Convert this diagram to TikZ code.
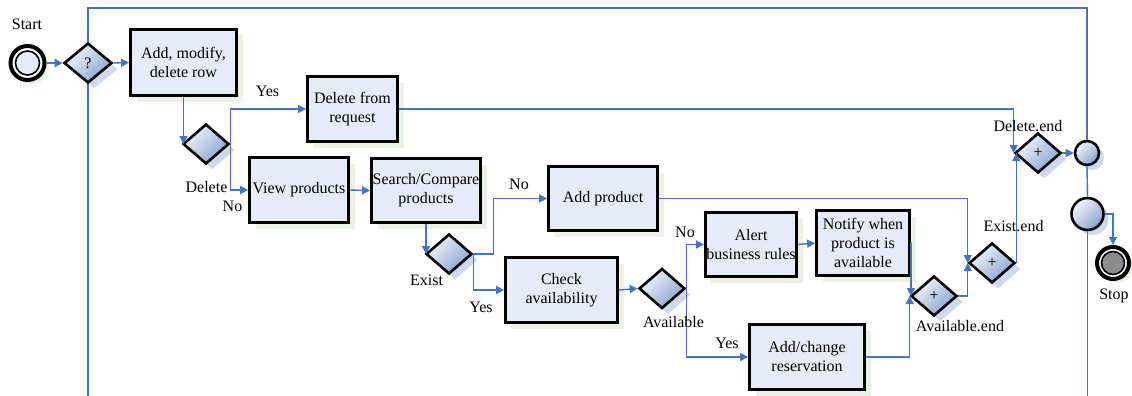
\documentclass[tikz,border=0pt]{standalone}
\usepackage{fontspec}
\setmainfont{Liberation Serif}
\usetikzlibrary{shapes.geometric,arrows.meta,shadows}
\definecolor{linkblue}{RGB}{68,114,196}
\definecolor{boxfill}{RGB}{230,236,247}
\definecolor{boxshadow}{RGB}{236,241,230}
\definecolor{dlight}{RGB}{242,246,252}
\definecolor{ddark}{RGB}{135,162,206}
\definecolor{dshadow}{RGB}{205,218,238}
\definecolor{stopgray}{RGB}{140,140,140}
\begin{document}
\begin{tikzpicture}[x=1pt,y=-1pt,
  every node/.style={font=\fontsize{16}{19}\selectfont},
  task/.style={rectangle, draw=black, line width=2.8pt, fill=boxfill, align=center, inner sep=1pt,
     drop shadow={shadow xshift=6pt, shadow yshift=-6pt, fill=boxshadow, opacity=1}},
  gate/.style={diamond, draw=black, line width=2.6pt, inner sep=0pt, minimum width=46pt, minimum height=40pt,
     top color=dlight, bottom color=ddark, shading angle=45,
     drop shadow={shadow xshift=6pt, shadow yshift=-6pt, fill=dshadow, opacity=1}},
  evt/.style={circle, draw=black, line width=2.6pt, inner sep=0pt,
     top color=dlight, bottom color=ddark, shading angle=45,
     drop shadow={shadow xshift=5pt, shadow yshift=-5pt, fill=dshadow, opacity=1}},
  conn/.style={draw=linkblue, line width=1.4pt},
  arr/.style={conn, -{Triangle[length=8pt,width=8pt]}},
  lbl/.style={inner sep=0pt}
]
\useasboundingbox (0,0) rectangle (1132,396);

% start event
\node[circle, draw=black, line width=4pt, fill=white, minimum size=34pt, inner sep=0pt,
      drop shadow={shadow xshift=4pt, shadow yshift=-4pt, fill=boxshadow, opacity=1}] (start) at (27.5,63) {};
\node[circle, draw=black, line width=1.6pt, fill=boxfill, minimum size=24pt, inner sep=0pt] (startin) at (27.5,63) {};
\node[lbl] (startlbl) at (27,24) {Start};

% stop event
\node[circle, draw=black, line width=4pt, fill=white, minimum size=32pt, inner sep=0pt,
      drop shadow={shadow xshift=4pt, shadow yshift=-4pt, fill=boxshadow, opacity=1}] (stop) at (1113,263) {};
\node[circle, draw=black, line width=1.6pt, fill=stopgray, minimum size=23pt, inner sep=0pt] (stopin) at (1113,263) {};
\node[lbl] (stoplbl) at (1114,296) {Stop};

% gateways
\node[gate, minimum width=48pt] (q) at (88,63) {?};
\node[gate] (del) at (206,144) {};
\node[gate] (exist) at (449,254) {};
\node[gate] (avail) at (662,288.5) {};
\node[gate] (availend) at (934,296) {+};
\node[gate] (existend) at (992,263) {+};
\node[gate] (delend) at (1038,153) {+};

% end circles
\node[evt, minimum size=24pt] (c1) at (1087,153) {};
\node[evt, minimum size=32pt] (c2) at (1087.5,214) {};

% tasks
\node[task, minimum width=106pt, minimum height=66pt] (addrow) at (183.5,62.5) {Add, modify,\\delete row};
\node[task, minimum width=90pt, minimum height=65pt] (delreq) at (352.5,109) {Delete from\\request};
\node[task, minimum width=99pt, minimum height=65pt] (view) at (299,190) {View products};
\node[task, minimum width=109pt, minimum height=64pt] (search) at (426,190.5) {Search/Compare\\products};
\node[task, minimum width=109pt, minimum height=64pt] (addprod) at (603,198.5) {Add product};
\node[task, minimum width=112pt, minimum height=65pt] (check) at (561.5,290) {Check\\availability};
\node[task, minimum width=91pt, minimum height=64pt] (alert) at (751,244.5) {Alert\\business rules};
\node[task, minimum width=93pt, minimum height=65pt] (notify) at (863,243) {Notify when\\product is\\available};
\node[task, minimum width=115pt, minimum height=65pt] (addres) at (807,357) {Add/change\\reservation};

% free ends
\coordinate (topy) at (0,8);
\coordinate (qbot) at (88,396);
\coordinate (c2bot) at (1087.5,396);

% connectors
\draw[arr] (start) -- (q.west);
\draw[arr] (q.east) -- (addrow.west);
\draw[conn] (q.north) -- (q.north |- topy) -| (c1.north);
\draw[conn] (q.south) -- (qbot);
\draw[arr] (addrow.south) -- (addrow.south |- del.west);
\draw[arr] (del.east) |- (delreq.west);
\draw[arr] (del.east) |- (view.west);
\draw[arr] (view.east) -- (search.west);
\draw[arr] (search.south) -- (search.south |- exist.west);
\draw[arr] (exist.east) -- ++(20,0) |- (addprod.west);
\draw[arr] (exist.east) |- (check.west);
\draw[arr] (check.east) -- (avail.west);
\draw[arr] (avail.east) |- (alert.west);
\draw[arr] (avail.east) |- (addres.west);
\draw[arr] (alert.east) -- (notify.west);
\draw[arr] (notify.east) -- (notify.east |- availend.west);
\draw[arr] (addres.east) -| (availend.west);
\draw[arr] (addprod.east) -| (existend.west);
\draw[arr] (availend.east) -| (existend.west);
\draw[arr] (delreq.east) -| (delend.west);
\draw[arr] (existend.east) -- (existend.east |- delend.west);
\draw[arr] (delend.east) -- (c1.west);
\draw[conn] (c1.south) -- (c2.north);
\draw[arr] (c2.east) -| (stop.north);
\draw[conn] (c2.south) -- (c2bot);

% labels
\node[lbl] (l1) at (267.5,91) {Yes};
\node[lbl] (l2) at (206.5,187) {Delete};
\node[lbl] (l3) at (232.5,206) {No};
\node[lbl] (l4) at (519,184) {No};
\node[lbl] (l5) at (426.5,280) {Exist};
\node[lbl] (l6) at (481,307) {Yes};
\node[lbl] (l7) at (685,232) {No};
\node[lbl] (l8) at (673.5,322) {Available};
\node[lbl] (l9) at (727,343) {Yes};
\node[lbl] (l10) at (960,326) {Available.end};
\node[lbl] (l11) at (1013.5,226) {Exist.end};
\node[lbl] (l12) at (1028,126) {Delete.end};
\end{tikzpicture}
\end{document}
